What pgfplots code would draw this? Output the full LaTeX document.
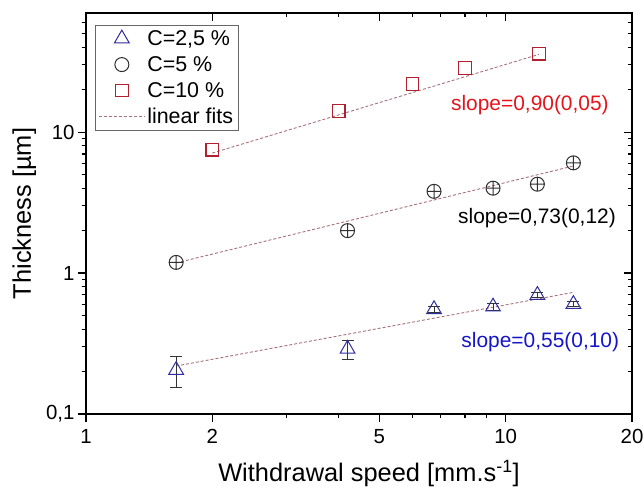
\documentclass[border=0pt]{standalone}
\usepackage{pgfplots}
\pgfplotsset{compat=1.18}
\usepackage{fontspec}
\setmainfont{Liberation Sans}
\definecolor{triblue}{HTML}{2E2E9E}
\definecolor{sqred}{HTML}{B0202E}
\definecolor{fitc}{HTML}{A8707A}
\definecolor{txtred}{HTML}{E5141C}
\definecolor{txtblue}{HTML}{1414C8}
\definecolor{circ}{HTML}{303030}
\begin{document}
\begin{tikzpicture}
\begin{axis}[
  scale only axis, width=546bp, height=401bp,
  xmode=log, ymode=log,
  xmin=1, xmax=20, ymin=0.1, ymax=70,
  xtick={1,2,5,10,20},
  minor xtick={3,4,6,7,8,9},
  ytick={0.1,1,10},
  minor ytick={0.2,0.3,0.4,0.5,0.6,0.7,0.8,0.9,2,3,4,5,6,7,8,9,20,30,40,50,60},
  major tick length=8bp, minor tick length=4.5bp,
  every tick/.style={line width=1.2bp, black},
  axis line style={line width=1.4bp},
  tick pos=left, tick align=outside,
  xticklabels={1,2,5,10,20},
  yticklabels={{0,1},1,10},
  tick label style={font=\fontsize{20.5}{20.5}\selectfont},
  xticklabel style={yshift=-4bp},
  label style={font=\fontsize{25.5}{25.5}\selectfont},
  xlabel style={yshift=-9bp, xshift=10bp},
  ylabel style={yshift=3bp},
  xlabel={Withdrawal speed [mm.s\textsuperscript{-1}]},
  ylabel={Thickness [µm]},
  legend style={at={(rel axis cs:0.0165,0.970)}, anchor=north west,
    draw=gray!80!black, line width=0.8bp,
    font=\fontsize{21.5}{21.5}\selectfont, row sep=5.5bp,
    inner xsep=3bp, inner ysep=3bp,
    /tikz/every even column/.append style={column sep=4bp}},
  legend cell align=left,
  legend image code/.code={\draw[mark repeat=2,mark phase=2,#1] plot coordinates {(0bp,0bp) (23bp,0bp) (46bp,0bp)};},
]
% linear fits
\addplot[fitc, line width=0.9bp, dash pattern=on 3bp off 2bp, forget plot] coordinates {(2,7.1) (12,35.6)};
\addplot[fitc, line width=0.9bp, dash pattern=on 3bp off 2bp, forget plot] coordinates {(1.64,1.18) (14.5,5.75)};
\addplot[fitc, line width=0.9bp, dash pattern=on 3bp off 2bp, forget plot] coordinates {(1.64,0.219) (14.5,0.73)};
% C=2.5 %
\addplot[triblue, only marks, mark=triangle, mark size=8.5bp, mark options={line width=1bp}, forget plot,
  error bars/.cd, y dir=both, y explicit, error bar style={gray!40!black, line width=1bp},
  error mark options={rotate=90, mark size=6bp, gray!40!black, line width=1bp}]
  coordinates {
  (1.64,0.205) +- (0,0.05)
  (4.2,0.29) +- (0,0.045)
  (6.75,0.553) +- (0,0.03)
  (9.33,0.577) +- (0,0.035)
  (11.9,0.698) +- (0,0.03)
  (14.5,0.602) +- (0,0.025)
  };
% C=5 %
\addplot[circ, only marks, mark=oplus, mark size=7bp, mark options={line width=1bp}, forget plot]
  coordinates {(1.64,1.19) (4.2,2.0) (6.75,3.8) (9.33,4.0) (11.9,4.27) (14.5,6.05)};
% C=10 %
\addplot[sqred, only marks, mark=square, mark size=6.3bp, mark options={line width=1.2bp}, forget plot]
  coordinates {(2.0,7.5) (4.0,14.1) (6.0,22.0) (8.0,28.5) (12.0,36.0)};
\addlegendimage{only marks, mark=triangle, mark size=8.5bp, triblue, mark options={line width=1bp}}
\addlegendentry{C=2,5 \%}
\addlegendimage{only marks, mark=o, mark size=7bp, circ, mark options={line width=1bp}}
\addlegendentry{C=5 \%}
\addlegendimage{only marks, mark=square, mark size=6.3bp, sqred, mark options={line width=1.2bp}}
\addlegendentry{C=10 \%}
\addlegendimage{fitc, line width=0.9bp, dash pattern=on 3bp off 2bp}
\addlegendentry{linear fits}
\node[txtred, font=\fontsize{21}{21}\selectfont] at (rel axis cs:0.813,0.771) {slope=0,90(0,05)};
\node[black, font=\fontsize{21}{21}\selectfont] at (rel axis cs:0.826,0.489) {slope=0,73(0,12)};
\node[txtblue, font=\fontsize{21}{21}\selectfont] at (rel axis cs:0.832,0.180) {slope=0,55(0,10)};
\end{axis}
\begin{axis}[
  scale only axis, width=546bp, height=401bp,
  xmode=log, ymode=log,
  xmin=1, xmax=20, ymin=0.1, ymax=70,
  xtick={1,2,5,10,20},
  minor xtick={3,4,6,7,8,9},
  ytick={0.1,1,10},
  minor ytick={0.2,0.3,0.4,0.5,0.6,0.7,0.8,0.9,2,3,4,5,6,7,8,9,20,30,40,50,60},
  major tick length=8bp, minor tick length=4.5bp,
  every tick/.style={line width=1.2bp, black},
  axis line style={draw=none},
  tick pos=right, tick align=inside,
  xticklabels={}, yticklabels={},
]
\addplot[draw=none, forget plot] coordinates {(1,1) (20,1)};
\end{axis}
\pgfresetboundingbox
\path[use as bounding box] (-86bp,-77bp) rectangle (558bp,414bp);
\end{tikzpicture}
\end{document}
